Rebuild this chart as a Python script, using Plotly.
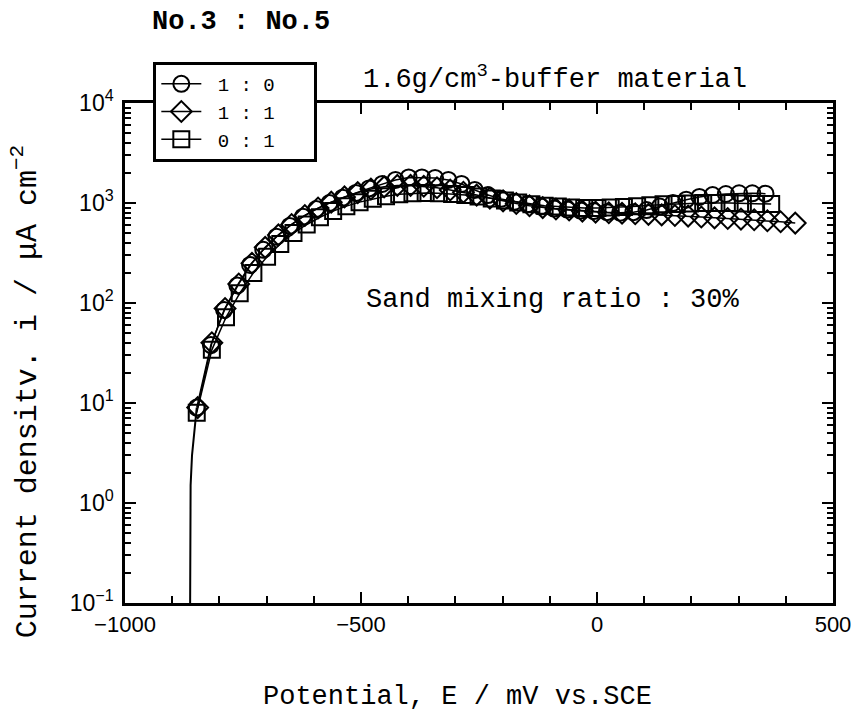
import plotly.graph_objects as go

# ---- data ----
E_10 = [-848, -818, -790, -762, -735, -707, -679, -651, -623, -595, -567, -539, -511, -483,
        -455, -427, -399, -371, -343, -315, -287, -259, -231, -203, -175, -147, -119, -91,
        -63, -35, -7, 21, 49, 77, 105, 133, 161, 189, 217, 245, 273, 301, 329, 357]
I_10 = [9, 38, 85, 150, 240, 340, 460, 590, 730, 870, 1000, 1130, 1260, 1400,
        1550, 1700, 1800, 1800, 1780, 1700, 1550, 1350, 1200, 1100, 1030, 970, 920, 880,
        860, 840, 830, 810, 800, 810, 850, 920, 1000, 1080, 1150, 1200, 1230, 1250, 1250, 1240]

E_11 = [-846, -816, -788, -759, -731, -703, -675, -647, -619, -591, -563, -535, -507, -479,
        -451, -423, -395, -367, -339, -311, -283, -255, -227, -199, -171, -143, -115, -87,
        -59, -31, -3, 25, 53, 81, 109, 137, 165, 193, 221, 249, 277, 305, 333, 361, 389, 420]
I_11 = [9, 40, 88, 155, 250, 360, 480, 610, 750, 890, 1020, 1150, 1270, 1380,
        1450, 1500, 1500, 1470, 1420, 1350, 1280, 1200, 1120, 1050, 990, 940, 900, 870,
        850, 830, 810, 800, 790, 780, 770, 760, 750, 740, 725, 710, 700, 690, 680, 665, 650, 630]

E_01 = [-848, -816, -786, -757, -728, -699, -671, -643, -615, -587, -559, -531, -503, -475,
        -447, -419, -391, -363, -335, -307, -279, -251, -223, -195, -167, -139, -111, -83,
        -55, -27, 1, 29, 57, 85, 113, 141, 169, 197, 225, 253, 281, 309, 337, 369]
I_01 = [8, 34, 72, 125, 200, 290, 390, 500, 610, 720, 830, 930, 1020, 1100,
        1170, 1220, 1250, 1260, 1250, 1230, 1200, 1160, 1110, 1060, 1010, 970, 940, 920,
        900, 890, 890, 900, 910, 930, 950, 970, 980, 990, 1000, 1000, 1000, 990, 980, 975]

E_tail = [-862, -862, -861, -858, -854, -848]
I_tail = [0.1, 0.4, 1.5, 3.0, 5.0, 9]

series_names = ["1 : 0", "1 : 1", "0 : 1"]
series_symbols = ["circle-open", "diamond-open", "square-open"]

X_TICKS = [-1000, -500, 0, 500]
X_TICKTEXT = ["\u22121000", "\u2212500", "0", "500"]
Y_TICKS = [0.1, 1, 10, 100, 1000, 10000]
Y_TICKTEXT = ["10<sup>\u22121</sup>", "10<sup>0</sup>", "10<sup>1</sup>",
              "10<sup>2</sup>", "10<sup>3</sup>", "10<sup>4</sup>"]

MONO = "Liberation Mono, DejaVu Sans Mono, monospace"
SANS = "Liberation Sans, Arial, sans-serif"
NB = "\u00a0"

fig = go.Figure()

fig.add_trace(go.Scatter(x=E_tail, y=I_tail, mode="lines",
                         line=dict(color="black", width=2), showlegend=False,
                         hoverinfo="skip"))

for E, I, name, sym in zip([E_10, E_11, E_01], [I_10, I_11, I_01], series_names, series_symbols):
    fig.add_trace(go.Scatter(
        x=E, y=I, mode="lines+markers", name=NB + name + NB * 3,
        line=dict(color="black", width=1.5),
        marker=dict(symbol=sym, size=16, color="black", line=dict(width=2, color="black")),
    ))

minor_y = [m * 10 ** d for d in range(-1, 4) for m in range(2, 10)]
minor_x = [v for v in range(-1000, 501, 100) if v % 500 != 0]

fig.update_layout(
    width=851, height=713,
    margin=dict(l=125, r=18, t=103, b=110, autoexpand=False),
    paper_bgcolor="white", plot_bgcolor="white",
    font=dict(family=MONO, color="black", size=18),
    showlegend=True,
    legend=dict(x=0.04, y=1.082, xanchor="left", yanchor="top",
                bgcolor="white", bordercolor="black", borderwidth=3,
                font=dict(family=MONO, size=19), tracegroupgap=0,
                itemwidth=40),
    xaxis=dict(range=[-1000, 500], showgrid=False, zeroline=False, automargin=False,
               showline=True, linecolor="black", linewidth=2.5, mirror="ticks",
               ticks="inside", ticklen=11, tickwidth=2, tickcolor="black",
               tickmode="array", tickvals=X_TICKS, ticktext=X_TICKTEXT,
               tickfont=dict(family=SANS, size=22), ticklabeloverflow="allow",
               minor=dict(tickmode="array", tickvals=minor_x, ticks="inside",
                          ticklen=7, tickwidth=1.5, tickcolor="black", showgrid=False)),
    yaxis=dict(type="log", range=[-1, 4], showgrid=False, zeroline=False, automargin=False,
               showline=True, linecolor="black", linewidth=2.5, mirror="ticks",
               ticks="inside", ticklen=11, tickwidth=2, tickcolor="black",
               tickmode="array", tickvals=Y_TICKS, ticktext=Y_TICKTEXT,
               tickfont=dict(family=SANS, size=23), ticklabelstandoff=4,
               ticklabeloverflow="allow",
               minor=dict(tickmode="array", tickvals=minor_y, ticks="inside",
                          ticklen=6, tickwidth=1.5, tickcolor="black", showgrid=False)),
)

fig.add_annotation(text="<b>No.3 : No.5</b>", xref="paper", yref="paper",
                   x=0.0353, y=1.162, xanchor="left", yanchor="middle",
                   showarrow=False, font=dict(family=MONO, size=27))
fig.add_annotation(text="1.6g/cm<sup>3</sup>-buffer material", xref="paper", yref="paper",
                   x=0.333, y=1.05, xanchor="left", yanchor="middle",
                   showarrow=False, font=dict(family=MONO, size=27))
fig.add_annotation(text="Sand mixing ratio : 30%", xref="paper", yref="paper",
                   x=0.3376, y=0.606, xanchor="left", yanchor="middle",
                   showarrow=False, font=dict(family=MONO, size=27))
fig.add_annotation(text="Potential, E / mV vs.SCE", xref="paper", yref="paper",
                   x=0.47, y=-0.188, xanchor="center", yanchor="middle",
                   showarrow=False, font=dict(family=MONO, size=27))
fig.add_annotation(text="Current densitv. i / \u03bcA cm<sup>\u22122</sup>", xref="paper", yref="paper",
                   x=-0.141, y=0.422, xanchor="center", yanchor="middle", textangle=-90,
                   showarrow=False, font=dict(family=MONO, size=30))

fig.write_html("out.html", config={"displayModeBar": False},
               post_script="document.body.style.margin='0px';document.body.style.overflow='hidden';")
